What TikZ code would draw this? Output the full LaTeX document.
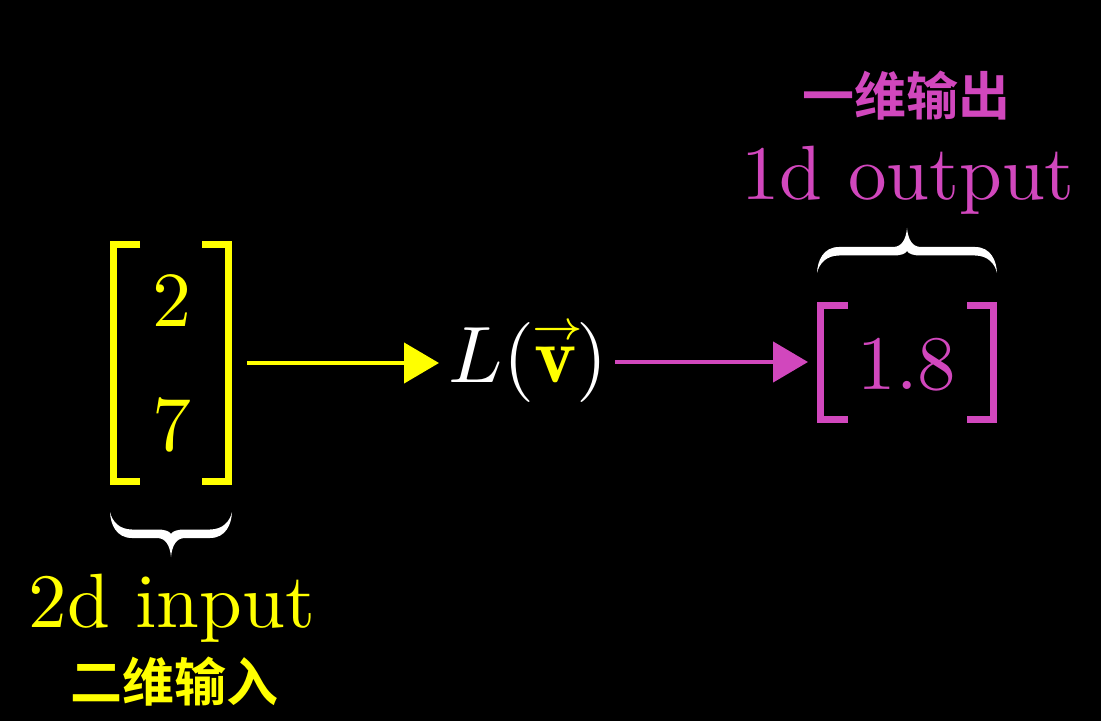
\RequirePackage{fix-cm}
\documentclass[tikz,border=0pt]{standalone}
\usepackage{fontspec}
\newfontfamily\cjk{Noto Sans CJK SC}[BoldFont={Noto Sans CJK SC Bold}]
\usetikzlibrary{arrows.meta}
\definecolor{myyellow}{HTML}{FFFF00}
\definecolor{mypink}{HTML}{D147BD}
\newcommand\myarrowvec[1]{\mathord{\setbox0\hbox{$#1$}\vbox{\offinterlineskip
  \hbox to\wd0{\hss$\scriptscriptstyle\rightarrow$\hss\kern-0.6pt}\kern0.9pt\box0}}}
\tikzset{
  pics/hbrace/.style={code={
    \fill[white] (-#1,0) .. controls (-#1+0.5,12) and (-#1+6,26) .. (-#1+22,26)
      -- (-14,26) .. controls (-5,26) and (-1,34) .. (0,45)
      .. controls (1,34) and (5,26) .. (14,26)
      -- (#1-22,26) .. controls (#1-6,26) and (#1-0.5,12) .. (#1,0)
      .. controls (#1-2,9) and (#1-9,17.5) .. (#1-22,17.5)
      -- (14,17.5) .. controls (6,17.5) and (2,19) .. (0,22)
      .. controls (-2,19) and (-6,17.5) .. (-14,17.5)
      -- (-#1+22,17.5) .. controls (-#1+9,17.5) and (-#1+2,9) .. cycle;
  }},
  bracketline/.style={line width=3.5pt, line join=miter, line cap=butt},
  tentext/.style={inner sep=0pt, font=\fontsize{10}{12}\selectfont},
  zhtext/.style={inner sep=0pt, anchor=center, font=\cjk\bfseries\fontsize{26}{28}\selectfont},
  ghost/.style={inner sep=0pt, outer sep=0pt, draw=none},
  yarrow/.style={draw=myyellow, line width=2.2pt, -{Triangle[length=17.5pt,width=20pt]}},
  parrow/.style={draw=mypink, line width=2.3pt, -{Triangle[length=17.5pt,width=20pt]}},
}
\begin{document}
\begin{tikzpicture}[x=0.5pt,y=-0.5pt]
\fill[black] (0,0) rectangle (1101,721);
\useasboundingbox (0,0) rectangle (1101,721);

% input vector
\node[ghost, minimum width=61pt, minimum height=122pt] (vin) at (171,363) {};
\draw[bracketline, myyellow] (140,244.5) -- (113.5,244.5) -- (113.5,481.5) -- (140,481.5);
\draw[bracketline, myyellow] (202,244.5) -- (228.5,244.5) -- (228.5,481.5) -- (202,481.5);
\node[tentext, anchor=base, scale=3.9, myyellow] (e2) at (172,327) {2};
\node[tentext, anchor=base, scale=3.9, myyellow] (e7) at (172,450) {7};

% function
\node[tentext, anchor=base west, scale=4, text=white] (Lv) at (447,382)
  {$L(\textcolor{myyellow}{\myarrowvec{\mathbf{v}}})$};

% output vector
\node[ghost, minimum width=90pt, minimum height=60.5pt] (vout) at (907,362.5) {};
\draw[bracketline, mypink] (848,305.5) -- (820.5,305.5) -- (820.5,419.5) -- (848,419.5);
\draw[bracketline, mypink] (967,305.5) -- (993.5,305.5) -- (993.5,419.5) -- (967,419.5);
\node[tentext, anchor=base, scale=3.85, mypink] (e18) at (907,389) {1.8};

% arrows
\draw[yarrow, shorten <=7.5pt, shorten >=4pt] (vin.east) -- (vin.east -| Lv.west);
\draw[parrow, shorten <=3pt, shorten >=4.5pt] (Lv.east) -- (Lv.east -| vout.west);

% braces
\pic at (171,512) {hbrace=61};
\pic[yscale=-1] at (907,273) {hbrace=90};

% labels
\node[tentext, anchor=base, scale=3.85, myyellow] (inlab) at (172,627) {2d input};
\node[zhtext, myyellow] (inzh) at (174,682) {二维输入};
\node[tentext, anchor=base, scale=3.85, mypink] (outlab) at (908,200) {1d output};
\node[zhtext, mypink] (outzh) at (906,96) {一维输出};
\end{tikzpicture}
\end{document}
